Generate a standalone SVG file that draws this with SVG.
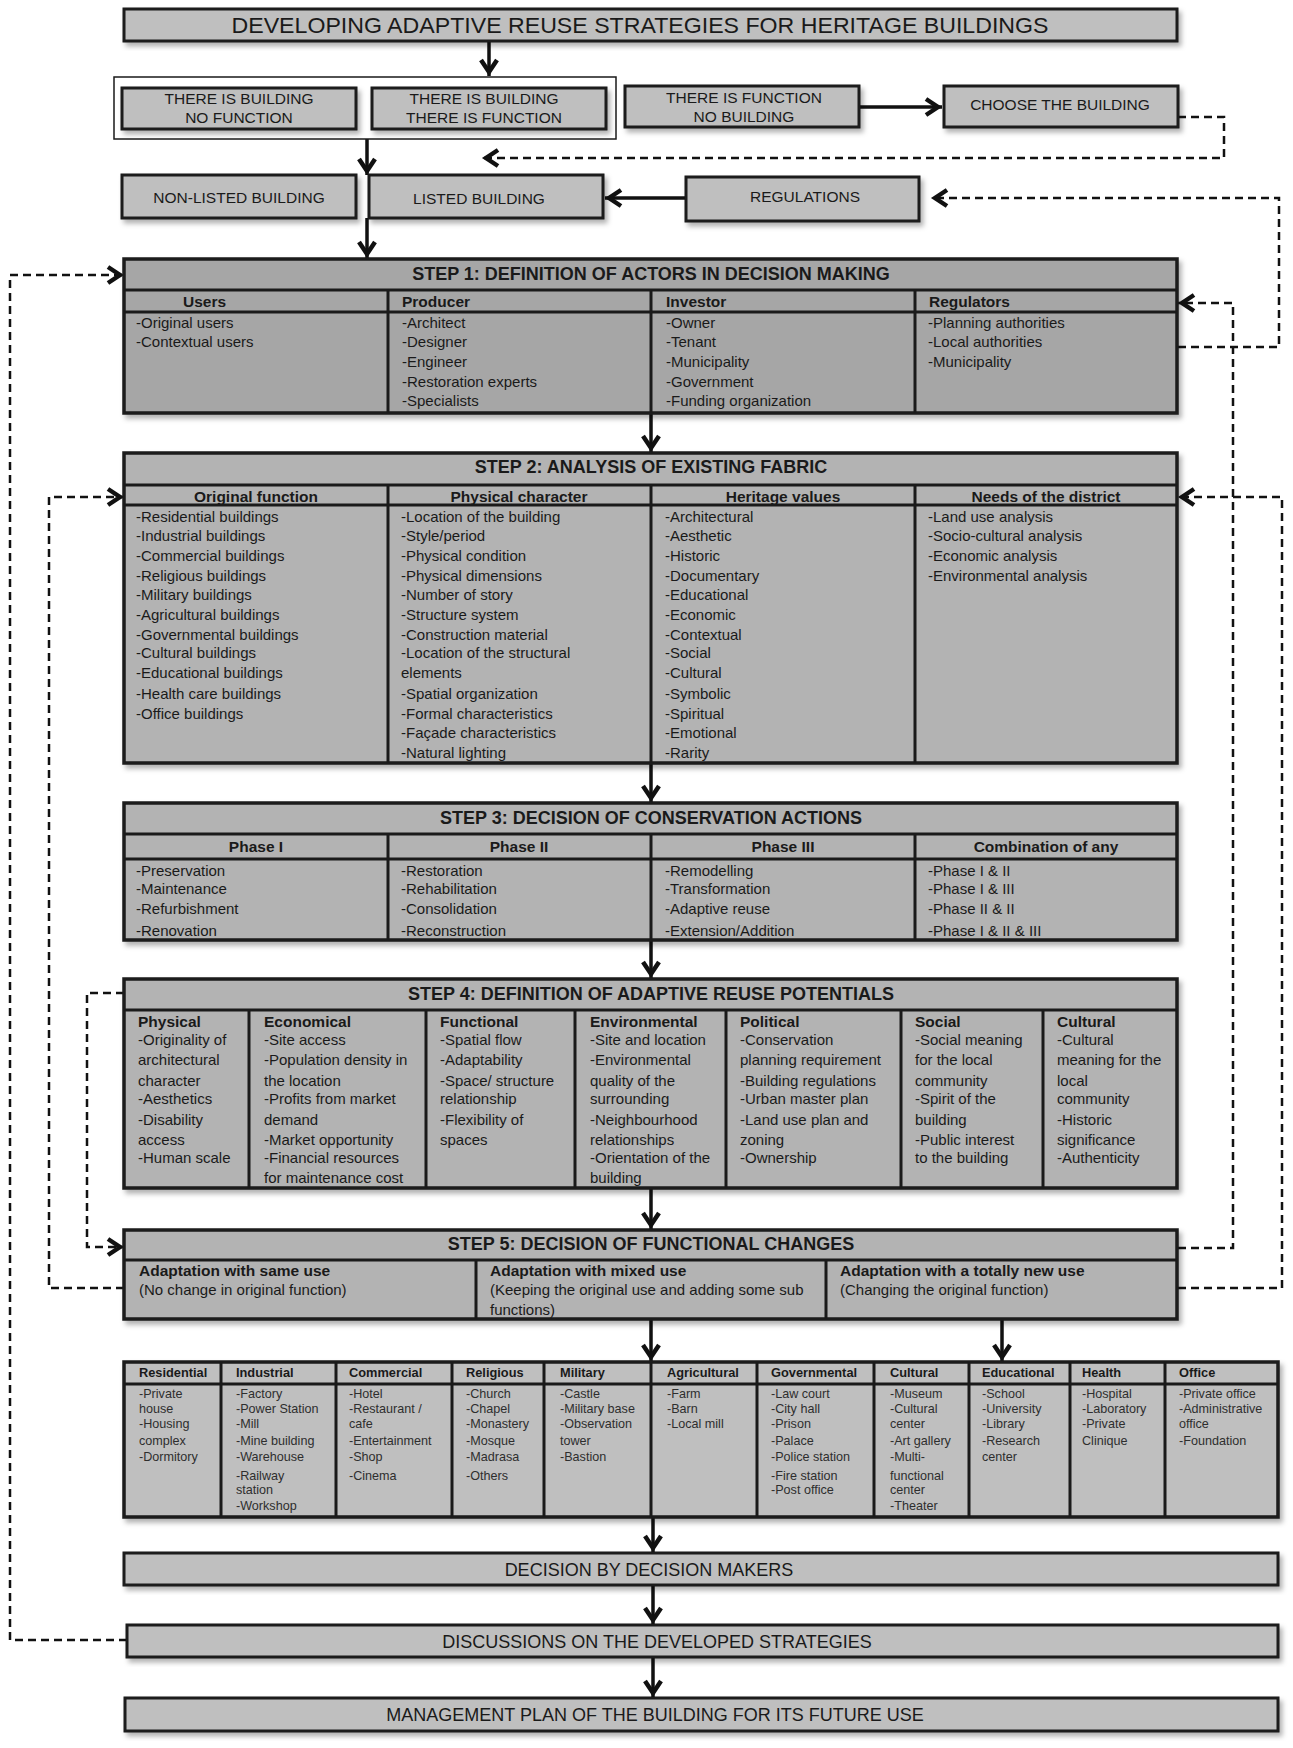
<svg xmlns="http://www.w3.org/2000/svg" width="1293" height="1748" viewBox="0 0 1293 1748">
<defs>
<filter id="sh" x="-5%" y="-20%" width="110%" height="150%"><feDropShadow dx="3" dy="4" stdDeviation="2.5" flood-color="#000" flood-opacity="0.3"/></filter>
<marker id="ah" viewBox="-20 -11 22 22" refX="0" refY="0" markerWidth="22" markerHeight="22" markerUnits="userSpaceOnUse" orient="auto">
<path d="M-16,-8 L-4,0 L-16,8" fill="none" stroke="#111" stroke-width="4.5" stroke-dasharray="none" stroke-linejoin="miter"/>
</marker>
<style>
.box{fill:#bfbfbf;stroke:#1a1a1a;stroke-width:3;filter:url(#sh)}
.t1{fill:#a6a6a6;stroke:#1a1a1a;stroke-width:3.5;filter:url(#sh)}
.t2{fill:#b3b3b3;stroke:#1a1a1a;stroke-width:3.5;filter:url(#sh)}
.t3{fill:#bfbfbf;stroke:#1a1a1a;stroke-width:3.5;filter:url(#sh)}
.ln{stroke:#1a1a1a;stroke-width:3;fill:none}
text{font-family:"Liberation Sans",Arial,sans-serif;fill:#1a1a1a}
.c{text-anchor:middle}
.bx{font-size:15.5px}
.ttl{font-size:21.5px}
.h{font-size:18px;font-weight:bold}
.ch{font-size:15.5px;font-weight:bold}
.b{font-size:15px}
.s{font-size:12.6px;fill:#2e2e2e}
.sh{font-size:12.8px;font-weight:bold}
.bt{font-size:18px}
.arrow{stroke:#111;stroke-width:3.5;fill:none;marker-end:url(#ah)}
.dash{stroke:#111;stroke-width:2.5;fill:none;stroke-dasharray:8 5;marker-end:url(#ah)}
</style>
</defs>
<rect width="1293" height="1748" fill="#fff"/>

<g id="connectors">
<path class="arrow" d="M489,41 V76"/>
<path class="arrow" d="M367,139 V175"/>
<path class="arrow" d="M859,107 H942"/>
<path class="dash" d="M1178,117 H1224 V158 H482"/>
<path class="arrow" d="M686,198 H605"/>
<path class="dash" d="M1178,347 H1279 V198 H931"/>
<path class="arrow" d="M367,218 V258"/>
<path class="arrow" d="M651,413 V452"/>
<path class="arrow" d="M651,763 V802"/>
<path class="arrow" d="M651,940 V978"/>
<path class="arrow" d="M651,1188 V1229"/>
<path class="arrow" d="M651,1319 V1361"/>
<path class="arrow" d="M1002,1319 V1361"/>
<path class="arrow" d="M653,1517 V1552"/>
<path class="arrow" d="M653,1585 V1624"/>
<path class="arrow" d="M653,1657 V1697"/>
<path class="dash" d="M127,1640 H10 V275 H124"/>
<path class="dash" d="M124,1288 H49 V497 H124"/>
<path class="dash" d="M1178,1288 H1282 V497 H1178"/>
<path class="dash" d="M1178,1248 H1233 V303 H1178"/>
<path class="dash" d="M124,993 H87 V1247 H124"/>
</g>

<g id="title">
<rect class="box" x="124" y="9" width="1053" height="32"/>
<text class="ttl c" x="640" y="33" textLength="817" lengthAdjust="spacingAndGlyphs">DEVELOPING ADAPTIVE REUSE STRATEGIES FOR HERITAGE BUILDINGS</text>
</g>

<g id="existing-building-group">
<rect x="114" y="77" width="502" height="62" fill="#fff" stroke="#1a1a1a" stroke-width="1.5"/>
</g>
<g id="building-no-function">
<rect class="box" x="122" y="88" width="234" height="41"/>
<text class="bx c" x="239" y="104">THERE IS BUILDING</text>
<text class="bx c" x="239" y="123">NO FUNCTION</text>
</g>
<g id="building-function">
<rect class="box" x="372" y="88" width="234" height="41"/>
<text class="bx c" x="484" y="104">THERE IS BUILDING</text>
<text class="bx c" x="484" y="123">THERE IS FUNCTION</text>
</g>
<g id="function-no-building">
<rect class="box" x="625" y="86" width="234" height="41"/>
<text class="bx c" x="744" y="103">THERE IS FUNCTION</text>
<text class="bx c" x="744" y="122">NO BUILDING</text>
</g>
<g id="choose-building">
<rect class="box" x="944" y="86" width="234" height="41"/>
<text class="bx c" x="1060" y="110">CHOOSE THE BUILDING</text>
</g>
<g id="non-listed">
<rect class="box" x="122" y="175" width="234" height="43"/>
<text class="bx c" x="239" y="203">NON-LISTED BUILDING</text>
</g>
<g id="listed">
<rect class="box" x="369" y="175" width="234" height="43"/>
<text class="bx c" x="479" y="204">LISTED BUILDING</text>
</g>
<g id="regulations">
<rect class="box" x="686" y="177" width="233" height="44"/>
<text class="bx c" x="805" y="202">REGULATIONS</text>
</g>

<g id="step1">
<rect class="t1" x="124" y="259" width="1053" height="154"/>
<path class="ln" d="M124,290 H1177 M124,312 H1177 M388,290 V413 M651,290 V413 M915,290 V413"/>
<text class="h c" x="651" y="280">STEP 1: DEFINITION OF ACTORS IN DECISION MAKING</text>
<text class="ch" x="183" y="307">Users</text>
<text class="ch" x="402" y="307">Producer</text>
<text class="ch" x="666" y="307">Investor</text>
<text class="ch" x="929" y="307">Regulators</text>
<text class="b"><tspan x="136" y="328">-Original users</tspan><tspan x="136" y="347">-Contextual users</tspan></text>
<text class="b"><tspan x="402" y="328">-Architect</tspan><tspan x="402" y="347">-Designer</tspan><tspan x="402" y="367">-Engineer</tspan><tspan x="402" y="387">-Restoration experts</tspan><tspan x="402" y="406">-Specialists</tspan></text>
<text class="b"><tspan x="666" y="328">-Owner</tspan><tspan x="666" y="347">-Tenant</tspan><tspan x="666" y="367">-Municipality</tspan><tspan x="666" y="387">-Government</tspan><tspan x="666" y="406">-Funding organization</tspan></text>
<text class="b"><tspan x="928" y="328">-Planning authorities</tspan><tspan x="928" y="347">-Local authorities</tspan><tspan x="928" y="367">-Municipality</tspan></text>
</g>

<g id="step2">
<rect class="t2" x="124" y="453" width="1053" height="310"/>
<path class="ln" d="M124,485 H1177 M124,505 H1177 M388,485 V763 M651,485 V763 M915,485 V763"/>
<text class="h c" x="651" y="473">STEP 2: ANALYSIS OF EXISTING FABRIC</text>
<text class="ch c" x="256" y="502">Original function</text>
<text class="ch c" x="519" y="502">Physical character</text>
<text class="ch c" x="783" y="502">Heritage values</text>
<text class="ch c" x="1046" y="502">Needs of the district</text>
<text class="b"><tspan x="136" y="522">-Residential buildings</tspan><tspan x="136" y="541">-Industrial buildings</tspan><tspan x="136" y="561">-Commercial buildings</tspan><tspan x="136" y="581">-Religious buildings</tspan><tspan x="136" y="600">-Military buildings</tspan><tspan x="136" y="620">-Agricultural buildings</tspan><tspan x="136" y="640">-Governmental buildings</tspan><tspan x="136" y="658">-Cultural buildings</tspan><tspan x="136" y="678">-Educational buildings</tspan><tspan x="136" y="699">-Health care buildings</tspan><tspan x="136" y="719">-Office buildings</tspan></text>
<text class="b"><tspan x="401" y="522">-Location of the building</tspan><tspan x="401" y="541">-Style/period</tspan><tspan x="401" y="561">-Physical condition</tspan><tspan x="401" y="581">-Physical dimensions</tspan><tspan x="401" y="600">-Number of story</tspan><tspan x="401" y="620">-Structure system</tspan><tspan x="401" y="640">-Construction material</tspan><tspan x="401" y="658">-Location of the structural</tspan><tspan x="401" y="678">elements</tspan><tspan x="401" y="699">-Spatial organization</tspan><tspan x="401" y="719">-Formal characteristics</tspan><tspan x="401" y="738">-Façade characteristics</tspan><tspan x="401" y="758">-Natural lighting</tspan></text>
<text class="b"><tspan x="665" y="522">-Architectural</tspan><tspan x="665" y="541">-Aesthetic</tspan><tspan x="665" y="561">-Historic</tspan><tspan x="665" y="581">-Documentary</tspan><tspan x="665" y="600">-Educational</tspan><tspan x="665" y="620">-Economic</tspan><tspan x="665" y="640">-Contextual</tspan><tspan x="665" y="658">-Social</tspan><tspan x="665" y="678">-Cultural</tspan><tspan x="665" y="699">-Symbolic</tspan><tspan x="665" y="719">-Spiritual</tspan><tspan x="665" y="738">-Emotional</tspan><tspan x="665" y="758">-Rarity</tspan></text>
<text class="b"><tspan x="928" y="522">-Land use analysis</tspan><tspan x="928" y="541">-Socio-cultural analysis</tspan><tspan x="928" y="561">-Economic analysis</tspan><tspan x="928" y="581">-Environmental analysis</tspan></text>
</g>

<g id="step3">
<rect class="t2" x="124" y="803" width="1053" height="137"/>
<path class="ln" d="M124,834 H1177 M124,859 H1177 M388,834 V940 M651,834 V940 M915,834 V940"/>
<text class="h c" x="651" y="824">STEP 3: DECISION OF CONSERVATION ACTIONS</text>
<text class="ch c" x="256" y="852">Phase I</text>
<text class="ch c" x="519" y="852">Phase II</text>
<text class="ch c" x="783" y="852">Phase III</text>
<text class="ch c" x="1046" y="852">Combination of any</text>
<text class="b"><tspan x="136" y="876">-Preservation</tspan><tspan x="136" y="894">-Maintenance</tspan><tspan x="136" y="914">-Refurbishment</tspan><tspan x="136" y="936">-Renovation</tspan></text>
<text class="b"><tspan x="401" y="876">-Restoration</tspan><tspan x="401" y="894">-Rehabilitation</tspan><tspan x="401" y="914">-Consolidation</tspan><tspan x="401" y="936">-Reconstruction</tspan></text>
<text class="b"><tspan x="665" y="876">-Remodelling</tspan><tspan x="665" y="894">-Transformation</tspan><tspan x="665" y="914">-Adaptive reuse</tspan><tspan x="665" y="936">-Extension/Addition</tspan></text>
<text class="b"><tspan x="928" y="876">-Phase I &amp; II</tspan><tspan x="928" y="894">-Phase I &amp; III</tspan><tspan x="928" y="914">-Phase II &amp; II</tspan><tspan x="928" y="936">-Phase I &amp; II &amp; III</tspan></text>
</g>

<g id="step4">
<rect class="t2" x="124" y="979" width="1053" height="209"/>
<path class="ln" d="M124,1010 H1177 M249,1010 V1188 M426,1010 V1188 M575,1010 V1188 M726,1010 V1188 M901,1010 V1188 M1043,1010 V1188"/>
<text class="h c" x="651" y="1000">STEP 4: DEFINITION OF ADAPTIVE REUSE POTENTIALS</text>
<text class="b"><tspan class="ch" x="138" y="1027">Physical</tspan><tspan x="138" y="1045">-Originality of</tspan><tspan x="138" y="1065">architectural</tspan><tspan x="138" y="1086">character</tspan><tspan x="138" y="1104">-Aesthetics</tspan><tspan x="138" y="1125">-Disability</tspan><tspan x="138" y="1145">access</tspan><tspan x="138" y="1163">-Human scale</tspan></text>
<text class="b"><tspan class="ch" x="264" y="1027">Economical</tspan><tspan x="264" y="1045">-Site access</tspan><tspan x="264" y="1065">-Population density in</tspan><tspan x="264" y="1086">the location</tspan><tspan x="264" y="1104">-Profits from market</tspan><tspan x="264" y="1125">demand</tspan><tspan x="264" y="1145">-Market opportunity</tspan><tspan x="264" y="1163">-Financial resources</tspan><tspan x="264" y="1183">for maintenance cost</tspan></text>
<text class="b"><tspan class="ch" x="440" y="1027">Functional</tspan><tspan x="440" y="1045">-Spatial flow</tspan><tspan x="440" y="1065">-Adaptability</tspan><tspan x="440" y="1086">-Space/ structure</tspan><tspan x="440" y="1104">relationship</tspan><tspan x="440" y="1125">-Flexibility of</tspan><tspan x="440" y="1145">spaces</tspan></text>
<text class="b"><tspan class="ch" x="590" y="1027">Environmental</tspan><tspan x="590" y="1045">-Site and location</tspan><tspan x="590" y="1065">-Environmental</tspan><tspan x="590" y="1086">quality of the</tspan><tspan x="590" y="1104">surrounding</tspan><tspan x="590" y="1125">-Neighbourhood</tspan><tspan x="590" y="1145">relationships</tspan><tspan x="590" y="1163">-Orientation of the</tspan><tspan x="590" y="1183">building</tspan></text>
<text class="b"><tspan class="ch" x="740" y="1027">Political</tspan><tspan x="740" y="1045">-Conservation</tspan><tspan x="740" y="1065">planning requirement</tspan><tspan x="740" y="1086">-Building regulations</tspan><tspan x="740" y="1104">-Urban master plan</tspan><tspan x="740" y="1125">-Land use plan and</tspan><tspan x="740" y="1145">zoning</tspan><tspan x="740" y="1163">-Ownership</tspan></text>
<text class="b"><tspan class="ch" x="915" y="1027">Social</tspan><tspan x="915" y="1045">-Social meaning</tspan><tspan x="915" y="1065">for the local</tspan><tspan x="915" y="1086">community</tspan><tspan x="915" y="1104">-Spirit of the</tspan><tspan x="915" y="1125">building</tspan><tspan x="915" y="1145">-Public interest</tspan><tspan x="915" y="1163">to the building</tspan></text>
<text class="b"><tspan class="ch" x="1057" y="1027">Cultural</tspan><tspan x="1057" y="1045">-Cultural</tspan><tspan x="1057" y="1065">meaning for the</tspan><tspan x="1057" y="1086">local</tspan><tspan x="1057" y="1104">community</tspan><tspan x="1057" y="1125">-Historic</tspan><tspan x="1057" y="1145">significance</tspan><tspan x="1057" y="1163">-Authenticity</tspan></text>
</g>

<g id="step5">
<rect class="t2" x="124" y="1230" width="1053" height="89"/>
<path class="ln" d="M124,1260 H1177 M476,1260 V1319 M826,1260 V1319"/>
<text class="h c" x="651" y="1250">STEP 5: DECISION OF FUNCTIONAL CHANGES</text>
<text class="b"><tspan class="ch" x="139" y="1276">Adaptation with same use</tspan><tspan x="139" y="1295">(No change in original function)</tspan></text>
<text class="b"><tspan class="ch" x="490" y="1276">Adaptation with mixed use</tspan><tspan x="490" y="1295">(Keeping the original use and adding some sub</tspan><tspan x="490" y="1315">functions)</tspan></text>
<text class="b"><tspan class="ch" x="840" y="1276">Adaptation with a totally new use</tspan><tspan x="840" y="1295">(Changing the original function)</tspan></text>
</g>

<g id="function-types">
<rect class="t3" x="124" y="1362" width="1154" height="155"/>
<path class="ln" d="M124,1384 H1278 M221,1362 V1517 M336,1362 V1517 M452,1362 V1517 M544,1362 V1517 M651,1362 V1517 M757,1362 V1517 M874,1362 V1517 M969,1362 V1517 M1070,1362 V1517 M1165,1362 V1517"/>
<text class="sh" x="139" y="1377">Residential</text>
<text class="sh" x="236" y="1377">Industrial</text>
<text class="sh" x="349" y="1377">Commercial</text>
<text class="sh" x="466" y="1377">Religious</text>
<text class="sh" x="560" y="1377">Military</text>
<text class="sh" x="667" y="1377">Agricultural</text>
<text class="sh" x="771" y="1377">Governmental</text>
<text class="sh" x="890" y="1377">Cultural</text>
<text class="sh" x="982" y="1377">Educational</text>
<text class="sh" x="1082" y="1377">Health</text>
<text class="sh" x="1179" y="1377">Office</text>
<text class="s"><tspan x="139" y="1398">-Private</tspan><tspan x="139" y="1413">house</tspan><tspan x="139" y="1428">-Housing</tspan><tspan x="139" y="1445">complex</tspan><tspan x="139" y="1461">-Dormitory</tspan></text>
<text class="s"><tspan x="236" y="1398">-Factory</tspan><tspan x="236" y="1413">-Power Station</tspan><tspan x="236" y="1428">-Mill</tspan><tspan x="236" y="1445">-Mine building</tspan><tspan x="236" y="1461">-Warehouse</tspan><tspan x="236" y="1480">-Railway</tspan><tspan x="236" y="1494">station</tspan><tspan x="236" y="1510">-Workshop</tspan></text>
<text class="s"><tspan x="349" y="1398">-Hotel</tspan><tspan x="349" y="1413">-Restaurant /</tspan><tspan x="349" y="1428">cafe</tspan><tspan x="349" y="1445">-Entertainment</tspan><tspan x="349" y="1461">-Shop</tspan><tspan x="349" y="1480">-Cinema</tspan></text>
<text class="s"><tspan x="466" y="1398">-Church</tspan><tspan x="466" y="1413">-Chapel</tspan><tspan x="466" y="1428">-Monastery</tspan><tspan x="466" y="1445">-Mosque</tspan><tspan x="466" y="1461">-Madrasa</tspan><tspan x="466" y="1480">-Others</tspan></text>
<text class="s"><tspan x="560" y="1398">-Castle</tspan><tspan x="560" y="1413">-Military base</tspan><tspan x="560" y="1428">-Observation</tspan><tspan x="560" y="1445">tower</tspan><tspan x="560" y="1461">-Bastion</tspan></text>
<text class="s"><tspan x="667" y="1398">-Farm</tspan><tspan x="667" y="1413">-Barn</tspan><tspan x="667" y="1428">-Local mill</tspan></text>
<text class="s"><tspan x="771" y="1398">-Law court</tspan><tspan x="771" y="1413">-City hall</tspan><tspan x="771" y="1428">-Prison</tspan><tspan x="771" y="1445">-Palace</tspan><tspan x="771" y="1461">-Police station</tspan><tspan x="771" y="1480">-Fire station</tspan><tspan x="771" y="1494">-Post office</tspan></text>
<text class="s"><tspan x="890" y="1398">-Museum</tspan><tspan x="890" y="1413">-Cultural</tspan><tspan x="890" y="1428">center</tspan><tspan x="890" y="1445">-Art gallery</tspan><tspan x="890" y="1461">-Multi-</tspan><tspan x="890" y="1480">functional</tspan><tspan x="890" y="1494">center</tspan><tspan x="890" y="1510">-Theater</tspan></text>
<text class="s"><tspan x="982" y="1398">-School</tspan><tspan x="982" y="1413">-University</tspan><tspan x="982" y="1428">-Library</tspan><tspan x="982" y="1445">-Research</tspan><tspan x="982" y="1461">center</tspan></text>
<text class="s"><tspan x="1082" y="1398">-Hospital</tspan><tspan x="1082" y="1413">-Laboratory</tspan><tspan x="1082" y="1428">-Private</tspan><tspan x="1082" y="1445">Clinique</tspan></text>
<text class="s"><tspan x="1179" y="1398">-Private office</tspan><tspan x="1179" y="1413">-Administrative</tspan><tspan x="1179" y="1428">office</tspan><tspan x="1179" y="1445">-Foundation</tspan></text>
</g>

<g id="decision">
<rect class="box" x="124" y="1553" width="1154" height="32"/>
<text class="bt c" x="649" y="1576">DECISION BY DECISION MAKERS</text>
</g>
<g id="discussions">
<rect class="box" x="127" y="1625" width="1151" height="32"/>
<text class="bt c" x="657" y="1648">DISCUSSIONS ON THE DEVELOPED STRATEGIES</text>
</g>
<g id="management">
<rect class="box" x="125" y="1698" width="1153" height="33"/>
<text class="bt c" x="655" y="1721">MANAGEMENT PLAN OF THE BUILDING FOR ITS FUTURE USE</text>
</g>
</svg>
